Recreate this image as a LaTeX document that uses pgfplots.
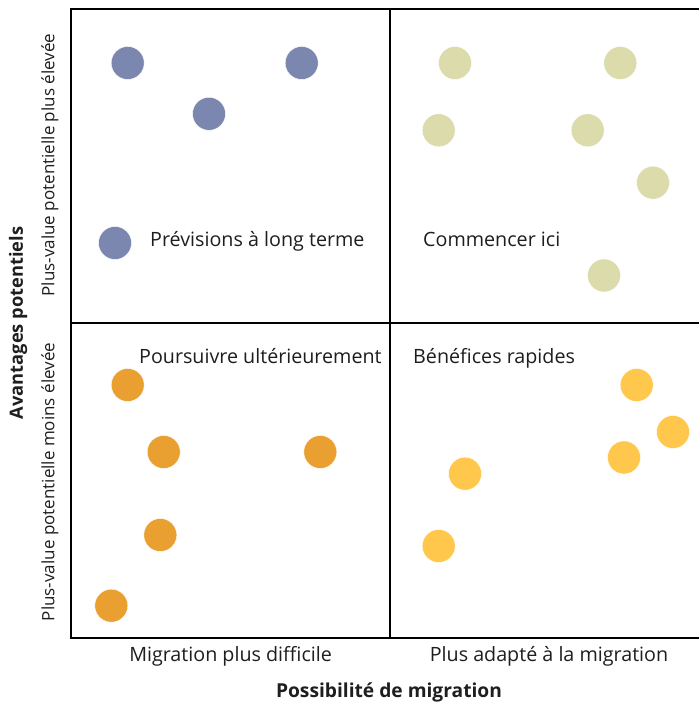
\documentclass[border=0pt]{standalone}
\usepackage{pgfplots}
\pgfplotsset{compat=1.18}
\usepackage{fontspec}
\setmainfont{Open Sans}
\definecolor{cblue}{RGB}{123,135,175}
\definecolor{colive}{RGB}{219,219,172}
\definecolor{corange}{RGB}{233,160,48}
\definecolor{cyellow}{RGB}{255,200,76}
\definecolor{ctext}{RGB}{30,30,30}
\pgfplotstableread{
x y
127.7 -63
301.7 -63
209 -113.8
115 -243
}\tblblue
\pgfplotstableread{
x y
455 -63
620.3 -63
438.7 -130.3
587.7 -130.3
653 -182.7
604 -275.5
}\tblolive
\pgfplotstableread{
x y
127.7 -385
163.7 -452
320.3 -452
160.3 -535
111.3 -605.7
}\tblorange
\pgfplotstableread{
x y
636.7 -385
673 -432
624 -457.5
465 -473.7
438.7 -546
}\tblyellow
\begin{document}
\begin{tikzpicture}
\begin{axis}[
  scale only axis, width=699bp, height=702bp,
  xmin=0, xmax=699, ymin=-702, ymax=0,
  hide axis, clip=false,
  every axis plot/.append style={only marks, mark=*, mark size=16.5bp},
]
\path (axis cs:0,-702) rectangle (axis cs:699,0);
\draw[line width=2bp] (axis cs:70,-9) -- (axis cs:699,-9);
\draw[line width=2bp] (axis cs:71,-8) -- (axis cs:71,-639);
\draw[line width=2bp] (axis cs:70,-638) -- (axis cs:699,-638);
\draw[line width=2bp] (axis cs:390,-9) -- (axis cs:390,-638);
\draw[line width=2bp] (axis cs:71,-323) -- (axis cs:699,-323);
\addplot[mark options={fill=cblue, draw=white, line width=0.4bp}] table {\tblblue};
\addplot[mark options={fill=colive, draw=white, line width=0.4bp}] table {\tblolive};
\addplot[mark options={fill=corange, draw=white, line width=0.4bp}] table {\tblorange};
\addplot[mark options={fill=cyellow, draw=white, line width=0.4bp}] table {\tblyellow};
\begin{scope}[every node/.style={text=ctext, inner sep=0pt, font=\fontsize{19.7bp}{23bp}\selectfont}]
\node[anchor=base west] at (axis cs:150,-247) {Prévisions à long terme};
\node[anchor=base west] at (axis cs:423,-247) {Commencer ici};
\node[anchor=base west] at (axis cs:139,-364) {Poursuivre ultérieurement};
\node[anchor=base west] at (axis cs:413,-364) {Bénéfices rapides};
\node[anchor=base] at (axis cs:230.6,-662) {Migration plus difficile};
\node[anchor=base] at (axis cs:549,-662) {Plus adapté à la migration};
\node[anchor=base, font=\fontsize{19.2bp}{22bp}\selectfont\bfseries] at (axis cs:389,-697) {Possibilité de migration};
\node[rotate=90, font=\fontsize{18.3bp}{21bp}\selectfont\bfseries] at (axis cs:18,-323) {Avantages potentiels};
\node[rotate=90, font=\fontsize{17bp}{20bp}\selectfont] at (axis cs:50,-165) {Plus-value potentielle plus élevée};
\node[rotate=90, font=\fontsize{17bp}{20bp}\selectfont] at (axis cs:50,-482) {Plus-value potentielle moins élevée};
\end{scope}
\end{axis}
\end{tikzpicture}
\end{document}
